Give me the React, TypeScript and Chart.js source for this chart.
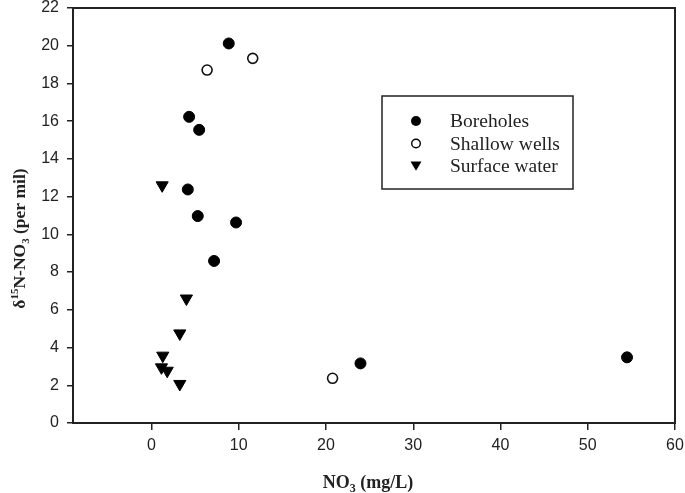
import React, { useEffect, useRef } from 'react';
import { Chart, registerables } from 'chart.js';

Chart.register(...registerables);

const seriesNames = ['Boreholes', 'Shallow wells', 'Surface water'];

const boreholesX = [8.85, 4.31, 5.46, 4.16, 5.3, 9.69, 7.17, 23.95, 54.5];
const boreholesY = [20.12, 16.23, 15.54, 12.38, 10.97, 10.63, 8.59, 3.16, 3.48];

const shallowX = [6.37, 11.6, 20.75];
const shallowY = [18.71, 19.33, 2.37];

const surfaceX = [1.22, 4.0, 3.24, 1.29, 1.14, 1.8, 3.24];
const surfaceY = [12.6, 6.6, 4.75, 3.57, 2.95, 2.77, 2.07];

const xTicks = [0, 10, 20, 30, 40, 50, 60];
const yTicks = [0, 2, 4, 6, 8, 10, 12, 14, 16, 18, 20, 22];
const xRange = [-9, 60];
const yRange = [0, 22];

const SERIF = "'Liberation Serif', 'Times New Roman', serif";
const SANS = "'Liberation Sans', Arial, sans-serif";
const INK = '#222';

type Seg = { t: string; k: 'n' | 'sub' | 'sup' };

function toPoints(xs: number[], ys: number[]) {
  return xs.map((x, i) => ({ x, y: ys[i] }));
}

function drawRich(ctx: CanvasRenderingContext2D, segs: Seg[], cx: number, baseY: number, size: number) {
  const small = Math.round(size * 0.65);
  const fontOf = (k: string) => `bold ${k === 'n' ? size : small}px ${SERIF}`;
  let total = 0;
  const widths = segs.map((s) => {
    ctx.font = fontOf(s.k);
    const w = ctx.measureText(s.t).width;
    total += w;
    return w;
  });
  let x = cx - total / 2;
  ctx.textAlign = 'left';
  ctx.textBaseline = 'alphabetic';
  segs.forEach((s, i) => {
    ctx.font = fontOf(s.k);
    const dy = s.k === 'sub' ? size * 0.25 : s.k === 'sup' ? -size * 0.38 : 0;
    ctx.fillText(s.t, x, baseY + dy);
    x += widths[i];
  });
}

const decorPlugin = {
  id: 'decor',
  afterDraw(chart: any) {
    const ctx: CanvasRenderingContext2D = chart.ctx;
    const a = chart.chartArea;
    ctx.save();
    ctx.strokeStyle = INK;
    ctx.lineWidth = 2;
    ctx.strokeRect(a.left, a.top, a.right - a.left, a.bottom - a.top);

    ctx.fillStyle = INK;
    drawRich(
      ctx,
      [
        { t: 'NO', k: 'n' },
        { t: '3', k: 'sub' },
        { t: ' (mg/L)', k: 'n' },
      ],
      368,
      487.5,
      18
    );
    ctx.save();
    ctx.translate(25, 238.5);
    ctx.rotate(-Math.PI / 2);
    drawRich(
      ctx,
      [
        { t: 'δ', k: 'n' },
        { t: '15', k: 'sup' },
        { t: 'N-NO', k: 'n' },
        { t: '3', k: 'sub' },
        { t: ' (per mil)', k: 'n' },
      ],
      0,
      0,
      17.5
    );
    ctx.restore();

    // legend
    const bx = 382, by = 96, bw = 191, bh = 93;
    ctx.lineWidth = 1.5;
    ctx.strokeStyle = INK;
    ctx.strokeRect(bx, by, bw, bh);
    const rows = [121, 143.5, 166];
    const mx = 416;
    ctx.beginPath();
    ctx.arc(mx, rows[0], 5, 0, Math.PI * 2);
    ctx.fillStyle = '#000';
    ctx.fill();
    ctx.beginPath();
    ctx.arc(mx, rows[1], 4.3, 0, Math.PI * 2);
    ctx.fillStyle = '#fff';
    ctx.fill();
    ctx.lineWidth = 1.4;
    ctx.strokeStyle = '#000';
    ctx.stroke();
    ctx.beginPath();
    ctx.moveTo(mx - 5.5, rows[2] - 4.5);
    ctx.lineTo(mx + 5.5, rows[2] - 4.5);
    ctx.lineTo(mx, rows[2] + 4.8);
    ctx.closePath();
    ctx.fillStyle = '#000';
    ctx.fill();

    ctx.fillStyle = INK;
    ctx.font = `19.5px ${SERIF}`;
    ctx.textAlign = 'left';
    ctx.textBaseline = 'middle';
    seriesNames.forEach((n, i) => ctx.fillText(n, 450, rows[i] + 1));
    ctx.restore();
  },
};

export default function App() {
  const ref = useRef<HTMLCanvasElement>(null);

  useEffect(() => {
    if (!ref.current) return;
    const chart = new Chart(ref.current, {
      type: 'scatter',
      data: {
        datasets: [
          {
            label: seriesNames[0],
            data: toPoints(boreholesX, boreholesY),
            pointStyle: 'circle',
            pointRadius: 5.5,
            borderWidth: 1,
            backgroundColor: '#000',
            borderColor: '#000',
          },
          {
            label: seriesNames[1],
            data: toPoints(shallowX, shallowY),
            pointStyle: 'circle',
            pointRadius: 5,
            borderWidth: 1.6,
            backgroundColor: '#fff',
            borderColor: '#111',
          },
          {
            label: seriesNames[2],
            data: toPoints(surfaceX, surfaceY),
            pointStyle: 'triangle',
            rotation: 180,
            pointRadius: 7,
            borderWidth: 1,
            backgroundColor: '#000',
            borderColor: '#000',
          },
        ],
      },
      options: {
        responsive: false,
        animation: false,
        events: [],
        layout: { padding: { top: 7, right: 10, left: 0, bottom: 0 } },
        plugins: { legend: { display: false }, tooltip: { enabled: false } },
        scales: {
          x: {
            type: 'linear',
            min: xRange[0],
            max: xRange[1],
            afterBuildTicks: (s: any) => {
              s.ticks = xTicks.map((v) => ({ value: v }));
            },
            afterFit: (s: any) => {
              s.height = 70;
              s.paddingLeft = 0;
              s.paddingRight = 0;
            },
            ticks: {
              font: { family: SANS, size: 16 },
              color: INK,
              padding: 6,
              maxRotation: 0,
              autoSkip: false,
            },
            grid: {
              drawOnChartArea: false,
              drawTicks: true,
              tickLength: 7,
              color: INK,
              lineWidth: 1.5,
            },
            border: { display: true, color: INK, width: 2 },
          },
          y: {
            type: 'linear',
            min: yRange[0],
            max: yRange[1],
            afterBuildTicks: (s: any) => {
              s.ticks = yTicks.map((v) => ({ value: v }));
            },
            afterFit: (s: any) => {
              s.width = 73;
              s.paddingTop = 0;
              s.paddingBottom = 0;
            },
            ticks: {
              font: { family: SANS, size: 16 },
              color: INK,
              padding: 8,
              autoSkip: false,
            },
            grid: {
              drawOnChartArea: false,
              drawTicks: true,
              tickLength: 6,
              color: INK,
              lineWidth: 1.5,
            },
            border: { display: true, color: INK, width: 2 },
          },
        },
      },
      plugins: [decorPlugin],
    } as any);
    return () => chart.destroy();
  }, []);

  return (
    <div style={{ position: 'absolute', left: 0, top: 0, width: 685, height: 493, background: '#fff' }}>
      <canvas ref={ref} width={685} height={493} style={{ display: 'block' }} />
    </div>
  );
}
